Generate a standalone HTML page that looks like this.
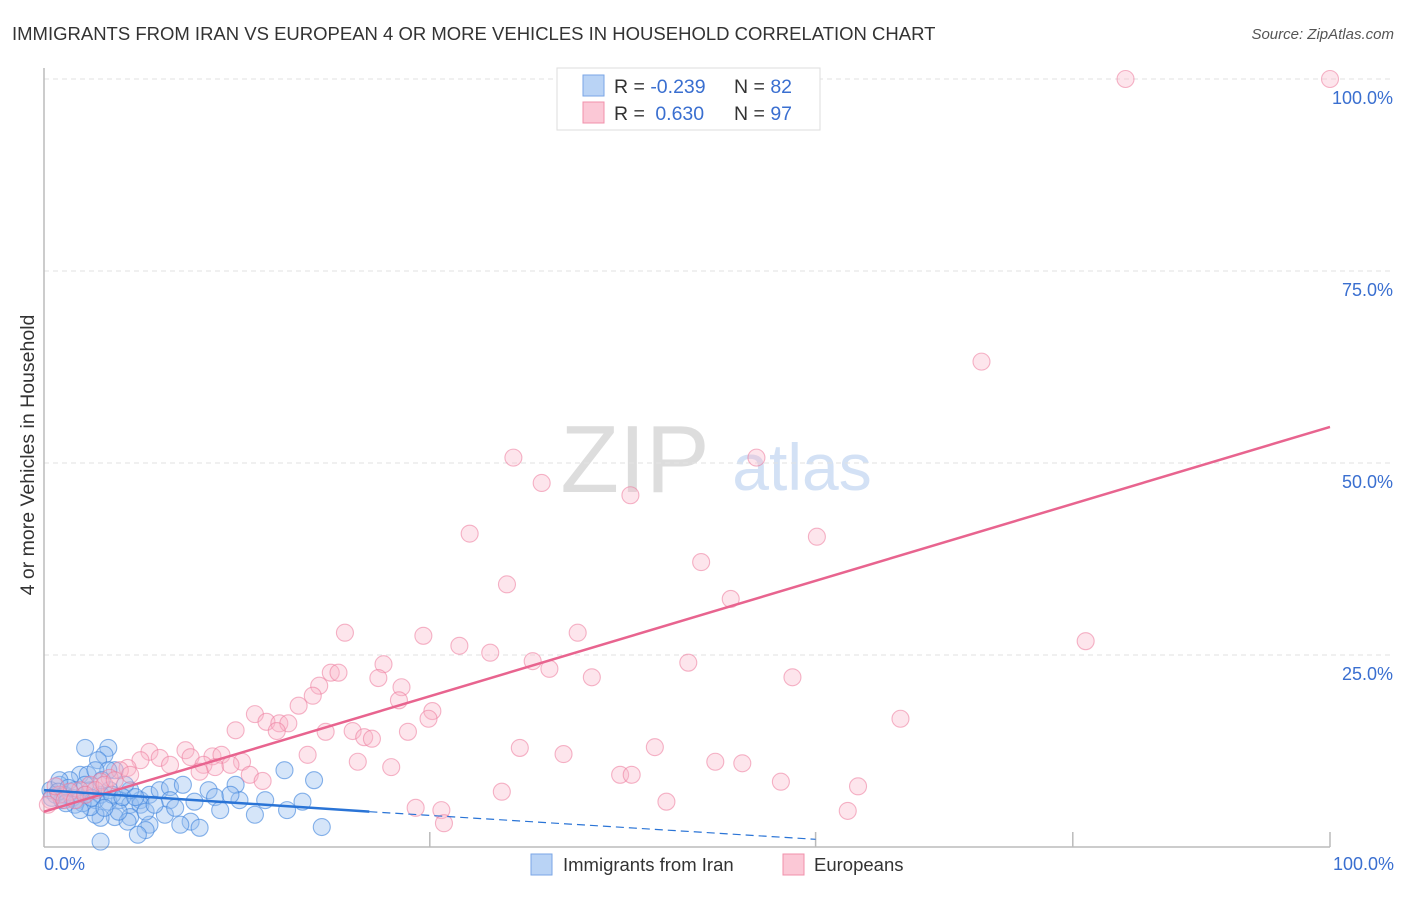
<!DOCTYPE html>
<html><head><meta charset="utf-8"><style>
body{margin:0;background:#fff;font-family:"Liberation Sans",sans-serif;}
svg text{font-family:"Liberation Sans",sans-serif;}
</style></head><body>
<svg id="c" width="1406" height="892" xmlns="http://www.w3.org/2000/svg">
<text x="12" y="40" font-size="18.5" fill="#333">IMMIGRANTS FROM IRAN VS EUROPEAN 4 OR MORE VEHICLES IN HOUSEHOLD CORRELATION CHART</text>
<text x="1394" y="39" font-size="15" fill="#555" font-style="italic" text-anchor="end">Source: ZipAtlas.com</text>
<text x="635" y="492" font-size="96" fill="#ddd" font-family="Liberation Serif" text-anchor="middle">ZIP</text>
<text x="802" y="490" font-size="66" fill="#d3e1f5" text-anchor="middle">atlas</text>
<g id="grid"></g>
<line x1="44" y1="68" x2="44" y2="847" stroke="#bbb" stroke-width="1.5"/>
<line x1="44" y1="847" x2="1330" y2="847" stroke="#bbb" stroke-width="1.5"/>
<g id="pts"></g>
<g id="trend"></g>
<text x="34" y="455" font-size="19.5" fill="#333" text-anchor="middle" transform="rotate(-90 34 455)">4 or more Vehicles in Household</text>
<text x="44" y="870" font-size="18" fill="#3a6fd0">0.0%</text>
<text x="1394" y="870" font-size="18" fill="#3a6fd0" text-anchor="end">100.0%</text>
<g>
<rect x="557" y="68" width="263" height="62" fill="#fff" stroke="#ddd"/>
<rect x="583" y="75" width="21" height="21" fill="#b9d3f5" stroke="#7aa6e6"/>
<rect x="583" y="102" width="21" height="21" fill="#fbc8d6" stroke="#f090ab"/>
<text x="614" y="93" font-size="19.5" fill="#333">R = <tspan fill="#3a6fd0">-0.239</tspan></text>
<text x="734" y="93" font-size="19.5" fill="#333">N = <tspan fill="#3a6fd0">82</tspan></text>
<text x="614" y="120" font-size="19.5" fill="#333">R = <tspan fill="#3a6fd0" dx="5">0.630</tspan></text>
<text x="734" y="120" font-size="19.5" fill="#333">N = <tspan fill="#3a6fd0">97</tspan></text>
</g>
<g>
<rect x="531" y="854" width="21" height="21" fill="#b9d3f5" stroke="#7aa6e6"/>
<text x="563" y="871" font-size="18.5" fill="#333">Immigrants from Iran</text>
<rect x="783" y="854" width="21" height="21" fill="#fbc8d6" stroke="#f090ab"/>
<text x="814" y="871" font-size="18.5" fill="#333">Europeans</text>
</g>
</svg>
<script>
const yTicks=[25,50,75,100];
const yTickLabels=["25.0%","50.0%","75.0%","100.0%"];
const xTicks=[30,60,80,100];
const pinkPx=[[1125,79],[1330,79],[981,362],[513,458],[542,483],[756,458],[630,495],[470,534],[817,537],[701,562],[507,584],[731,599],[345,633],[578,633],[423,636],[459,646],[490,653],[533,661],[550,669],[592,677],[688,663],[383,664],[378,678],[331,673],[339,673],[319,686],[401,687],[313,696],[793,677],[399,700],[299,706],[255,714],[236,730],[267,722],[279,723],[288,723],[277,731],[433,711],[428,719],[408,732],[900,719],[1086,641],[325,732],[352,731],[364,737],[372,739],[520,748],[563,754],[655,747],[307,755],[358,762],[391,767],[715,762],[742,763],[620,775],[632,775],[781,782],[858,786],[502,792],[667,802],[848,811],[416,808],[441,810],[444,823],[212,756],[221,755],[242,762],[250,775],[262,781],[185,750],[190,757],[204,765],[215,767],[200,772],[230,765],[150,752],[160,758],[170,765],[140,760],[128,768],[120,770],[110,778],[100,782],[90,785],[80,790],[70,792],[60,795],[50,800],[55,786],[48,805],[65,800],[75,800],[85,795],[95,790],[105,785],[115,780],[130,775]];
const bluePx=[[85,748],[108,748],[105,755],[98,760],[115,770],[80,775],[70,780],[60,785],[50,790],[55,795],[65,795],[75,790],[85,795],[95,800],[100,795],[90,790],[78,800],[62,800],[52,798],[110,790],[120,800],[130,805],[140,800],[150,795],[160,790],[170,787],[183,785],[208,790],[236,785],[284,770],[314,780],[215,797],[130,790],[140,805],[170,800],[195,802],[220,810],[240,800],[255,815],[303,802],[287,810],[115,817],[130,817],[150,825],[145,830],[165,815],[190,822],[180,825],[200,828],[138,835],[128,822],[100,818],[95,815],[322,827],[100,842],[108,802],[118,812],[90,807],[82,803],[72,798],[88,775],[108,770],[95,770],[102,780],[85,785],[60,780],[75,805],[58,792],[112,795],[125,785],[68,788],[92,798],[145,812],[175,808],[230,795],[265,800],[123,797],[80,810],[66,803],[104,808],[135,797],[155,805]];
// convert the read positions into data percentages
const pinkX=pinkPx.map(p=>+((p[0]-44)/12.86).toFixed(1));
const pinkY=pinkPx.map(p=>+((847-p[1])/7.68).toFixed(1));
const blueX=bluePx.map(p=>+((p[0]-44)/12.86).toFixed(1));
const blueY=bluePx.map(p=>+((847-p[1])/7.68).toFixed(1));
const pinkTrend=[[0,4.6],[100,54.7]];
const blueTrend=[[0,7.4],[25.3,4.6],[60,1.0]];
const X=v=>44+v*12.86, Y=v=>847-v*7.68;
const NS="http://www.w3.org/2000/svg";
function mk(t,a,p){const e=document.createElementNS(NS,t);for(const k in a)e.setAttribute(k,a[k]);p.appendChild(e);return e;}
const grid=document.getElementById('grid');
yTicks.forEach((v,i)=>{
 const l=mk('line',{x1:44,x2:1394,y1:Y(v),y2:Y(v),stroke:'#e2e2e2','stroke-dasharray':'5,4'},grid);
 
 
 const t=mk('text',{x:1393,y:Y(v)+25,'font-size':18,fill:'#3a6fd0','text-anchor':'end'},grid);
 t.textContent=yTickLabels[i];
 
 
});
xTicks.forEach(v=>{
 const l=mk('line',{x1:X(v),x2:X(v),y1:832,y2:847,stroke:'#bbb','stroke-width':1.5},grid);
 
 
});
const pts=document.getElementById('pts');
blueX.forEach((x,i)=>{
 const c=mk('circle',{cx:X(x),cy:Y(blueY[i]),r:8.5,fill:'rgba(150,190,240,0.4)',stroke:'rgba(60,130,220,0.6)','stroke-width':1.1},pts);
 
 
});
pinkX.forEach((x,i)=>{
 const c=mk('circle',{cx:X(x),cy:Y(pinkY[i]),r:8.5,fill:'rgba(248,180,200,0.35)',stroke:'rgba(236,120,155,0.55)','stroke-width':1.1},pts);
 
 
});
const tr=document.getElementById('trend');
const pl=mk('line',{x1:X(pinkTrend[0][0]),y1:Y(pinkTrend[0][1]),x2:X(pinkTrend[1][0]),y2:Y(pinkTrend[1][1]),stroke:'#e8648f','stroke-width':2.5},tr);


const bl=mk('line',{x1:X(blueTrend[0][0]),y1:Y(blueTrend[0][1]),x2:X(blueTrend[1][0]),y2:Y(blueTrend[1][1]),stroke:'#2a74d6','stroke-width':2.5},tr);


const bd=mk('line',{x1:X(blueTrend[1][0]),y1:Y(blueTrend[1][1]),x2:X(blueTrend[2][0]),y2:Y(blueTrend[2][1]),stroke:'#2a74d6','stroke-width':1.2,'stroke-dasharray':'8,5'},tr);


</script>
</body></html>
